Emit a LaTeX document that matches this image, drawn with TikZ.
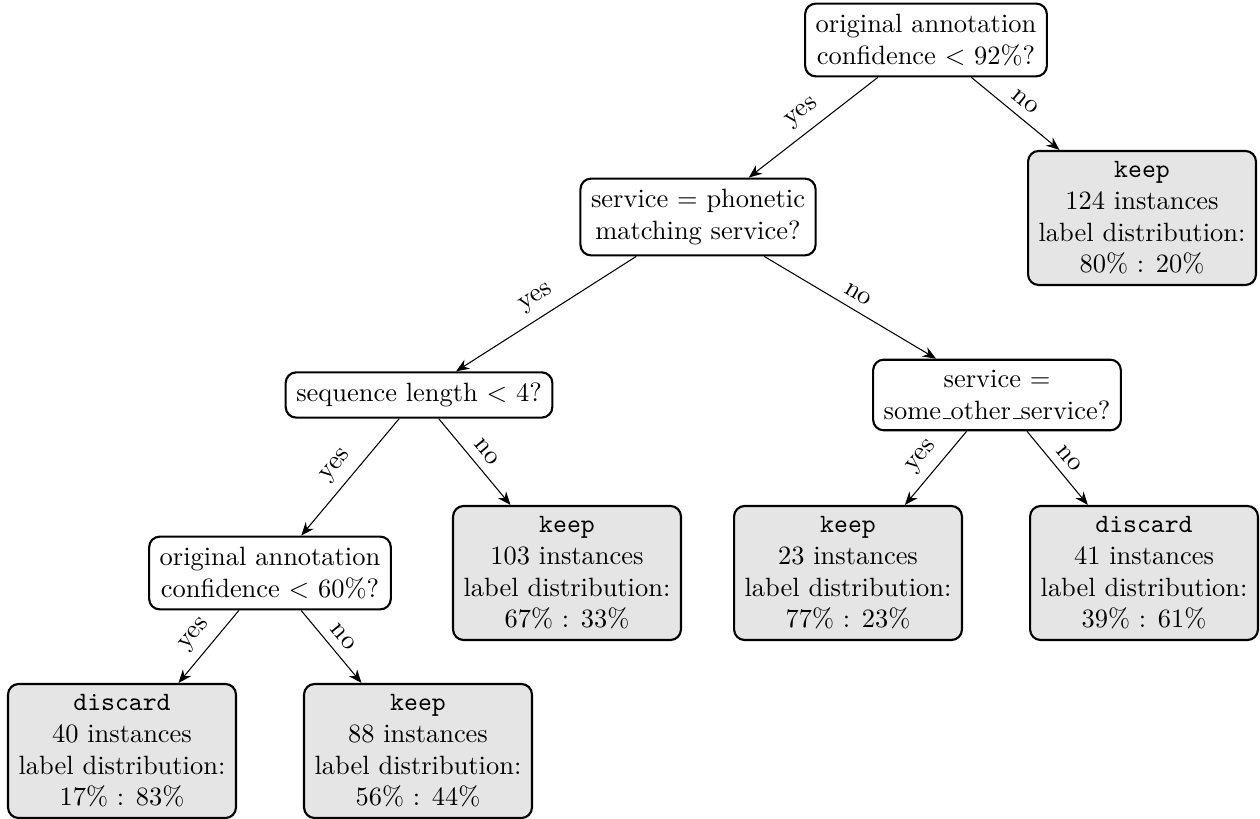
\documentclass[tikz,border=0pt]{standalone}
\usetikzlibrary{arrows.meta}
\newcommand{\lowbar}{\leavevmode\kern.06em\vbox{\hrule width.3em}}
\begin{document}
\begin{tikzpicture}[x=0.3781pt,y=-0.3781pt,
  question/.style={draw,thick,rounded corners=4pt,fill=white,align=center,inner sep=4pt},
  leaf/.style={draw,thick,rounded corners=4pt,fill=gray!20,align=center,inner sep=4pt},
  conn/.style={-{Stealth[length=5pt,width=4pt]}},
  lbl/.style={midway,above,sloped}]
\useasboundingbox (0,0) rectangle (1260,819);
\node[question] (root) at (926,40) {original annotation\\confidence $<$ 92\%?};
\node[leaf] (k124) at (1142,218) {\texttt{keep}\\124 instances\\label distribution:\\80\% : 20\%};
\node[question] (svc) at (698,217) {service $=$ phonetic\\matching service?};
\node[question] (seq) at (419,395) {sequence length $<$ 4?};
\node[question] (oth) at (997,395) {service $=$\\some\lowbar other\lowbar service?};
\node[question] (c60) at (270,573) {original annotation\\confidence $<$ 60\%?};
\node[leaf] (k103) at (567,573) {\texttt{keep}\\103 instances\\label distribution:\\67\% : 33\%};
\node[leaf] (k23) at (848,573) {\texttt{keep}\\23 instances\\label distribution:\\77\% : 23\%};
\node[leaf] (d41) at (1144,573) {\texttt{discard}\\41 instances\\label distribution:\\39\% : 61\%};
\node[leaf] (d40) at (122,751) {\texttt{discard}\\40 instances\\label distribution:\\17\% : 83\%};
\node[leaf] (k88) at (418,751) {\texttt{keep}\\88 instances\\label distribution:\\56\% : 44\%};
\draw[conn] (root) -- node[lbl] {yes} (svc);
\draw[conn] (root) -- node[lbl] {no} (k124);
\draw[conn] (svc) -- node[lbl] {yes} (seq);
\draw[conn] (svc) -- node[lbl] {no} (oth);
\draw[conn] (seq) -- node[lbl] {yes} (c60);
\draw[conn] (seq) -- node[lbl] {no} (k103);
\draw[conn] (oth) -- node[lbl] {yes} (k23);
\draw[conn] (oth) -- node[lbl] {no} (d41);
\draw[conn] (c60) -- node[lbl] {yes} (d40);
\draw[conn] (c60) -- node[lbl] {no} (k88);
\end{tikzpicture}
\end{document}
